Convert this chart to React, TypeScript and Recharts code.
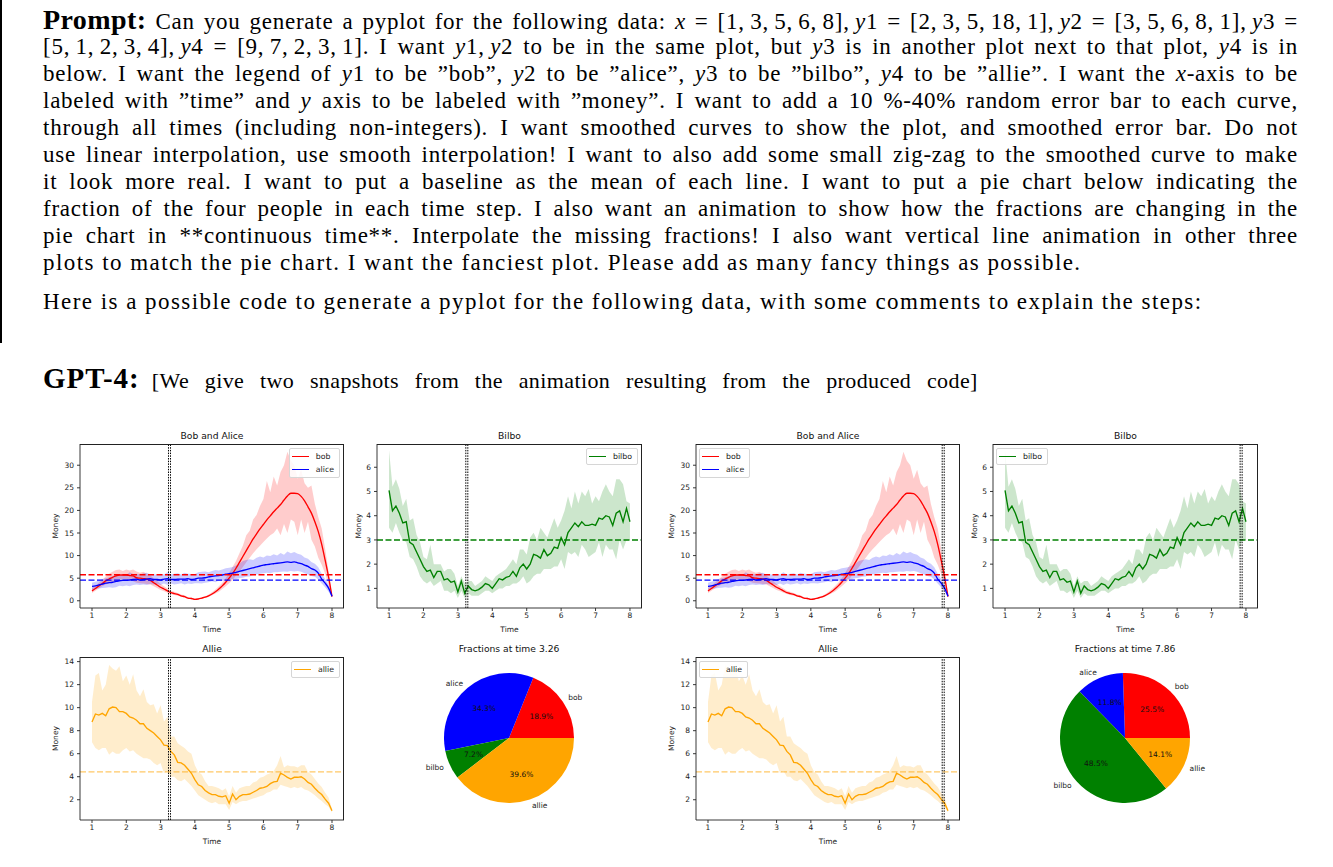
import React from 'react';
import {
  Area,
  Cell,
  ComposedChart,
  Line,
  Pie,
  PieChart,
  ReferenceLine,
  XAxis,
  YAxis,
} from 'recharts';

// sample times shared by every curve
const TIME = [
  1.0, 1.1, 1.2, 1.3, 1.4, 1.5, 1.6, 1.7, 1.8, 1.9,
  2.0, 2.1, 2.2, 2.3, 2.4, 2.5, 2.6, 2.7, 2.8, 2.9,
  3.0, 3.1, 3.2, 3.3, 3.4, 3.5, 3.6, 3.7, 3.8, 3.9,
  4.0, 4.1, 4.2, 4.3, 4.4, 4.5, 4.6, 4.7, 4.8, 4.9,
  5.0, 5.1, 5.2, 5.3, 5.4, 5.5, 5.6, 5.7, 5.8, 5.9,
  6.0, 6.1, 6.2, 6.3, 6.4, 6.5, 6.6, 6.7, 6.8, 6.9,
  7.0, 7.1, 7.2, 7.3, 7.4, 7.5, 7.6, 7.7, 7.8, 7.9,
  8.0,
];

const BOB = [
  2.2, 2.7, 3.3, 3.8, 4.4, 4.8, 5.2, 5.5, 5.7, 5.7,
  5.7, 5.6, 5.5, 5.1, 5.0, 4.9, 4.8, 4.5, 4.0, 3.5,
  3.0, 2.6, 2.2, 1.8, 1.6, 1.4, 1.1, 0.9, 0.6, 0.5,
  0.3, 0.4, 0.6, 0.8, 1.1, 1.5, 2.0, 2.6, 3.3, 4.1,
  5.0, 6.0, 7.2, 8.5, 9.8, 11.1, 12.4, 13.7, 14.8, 15.9,
  16.9, 17.9, 18.8, 19.7, 20.5, 21.3, 22.3, 23.2, 23.8, 23.8,
  23.7, 23.1, 22.1, 20.8, 19.4, 17.5, 15.3, 12.5, 9.0, 5.3,
  0.9,
];
const BOB_LO = [
  1.7, 2.2, 2.7, 3.2, 3.6, 3.9, 4.2, 4.4, 4.6, 4.8,
  4.7, 4.5, 4.3, 4.0, 3.9, 3.8, 3.7, 3.6, 3.2, 2.8,
  2.4, 2.1, 1.8, 1.5, 1.3, 1.1, 0.9, 0.7, 0.5, 0.4,
  0.2, 0.3, 0.5, 0.6, 0.9, 1.2, 1.6, 2.0, 2.6, 3.2,
  3.9, 4.6, 5.6, 6.5, 7.5, 8.5, 9.5, 10.5, 11.4, 12.2,
  13.0, 13.8, 14.5, 15.0, 16.0, 14.5, 17.0, 15.0, 18.0, 17.5,
  14.5, 18.0, 15.0, 17.5, 13.5, 12.0, 9.5, 8.0, 6.0, 3.5,
  0.7,
];
const BOB_HI = [
  2.8, 3.3, 4.0, 4.6, 5.4, 6.0, 6.4, 6.8, 6.9, 6.6,
  6.9, 6.7, 6.9, 6.5, 6.2, 6.4, 6.0, 5.6, 5.0, 4.4,
  3.7, 3.2, 2.7, 2.2, 2.0, 1.7, 1.4, 1.2, 0.8, 0.7,
  0.4, 0.5, 0.8, 1.0, 1.4, 1.9, 2.5, 3.2, 4.0, 5.0,
  6.2, 7.5, 8.8, 10.5, 12.2, 14.5, 15.5, 18.0, 19.0, 21.0,
  22.5, 26.5, 24.0, 27.5, 25.5, 28.5, 30.0, 33.0, 31.0, 30.0,
  27.0, 29.0, 26.0, 25.0, 25.5, 21.5, 18.5, 16.0, 11.5, 6.5,
  1.1,
];

const ALICE = [
  3.2, 3.3, 3.5, 3.7, 3.9, 4.0, 4.1, 4.3, 4.4, 4.5,
  4.5, 4.6, 4.7, 4.8, 4.6, 4.7, 4.8, 4.9, 4.7, 4.7,
  4.6, 4.8, 4.9, 4.7, 4.7, 4.8, 4.8, 4.8, 4.9, 4.7,
  4.8, 5.0, 5.0, 5.1, 5.3, 5.4, 5.5, 5.6, 5.7, 5.9,
  6.0, 6.1, 6.3, 6.5, 6.7, 6.9, 7.1, 7.3, 7.5, 7.7,
  7.9, 8.0, 8.1, 8.2, 8.3, 8.4, 8.5, 8.6, 8.5, 8.6,
  8.4, 8.2, 7.9, 7.6, 7.1, 6.8, 6.1, 4.8, 3.9, 2.8,
  1.0,
];
const ALICE_LO = [
  2.4, 2.6, 2.7, 2.8, 2.9, 3.0, 2.9, 3.0, 3.3, 3.2,
  3.4, 3.2, 3.5, 3.6, 3.5, 3.6, 3.5, 3.7, 3.6, 3.7,
  3.5, 3.8, 3.5, 3.8, 3.6, 3.7, 3.9, 3.6, 3.8, 3.7,
  3.9, 3.9, 3.8, 4.0, 4.1, 4.3, 4.1, 4.5, 4.4, 4.6,
  4.7, 4.8, 4.8, 5.0, 5.1, 5.3, 5.4, 5.7, 5.8, 6.0,
  6.1, 6.2, 6.1, 6.3, 6.3, 6.4, 6.5, 6.4, 6.6, 6.5,
  6.6, 6.4, 6.1, 5.8, 5.5, 5.3, 4.7, 3.8, 3.0, 2.0,
  0.8,
];
const ALICE_HI = [
  4.0, 4.2, 4.5, 4.8, 5.0, 5.2, 5.5, 5.8, 5.5, 5.9,
  5.7, 6.3, 5.9, 6.0, 5.8, 6.1, 6.2, 5.8, 5.9, 5.7,
  6.0, 5.8, 6.3, 5.8, 6.0, 6.1, 5.8, 6.2, 6.0, 5.9,
  5.9, 6.3, 6.4, 6.5, 6.3, 6.6, 6.8, 6.7, 6.9, 7.2,
  7.3, 7.5, 7.8, 8.2, 8.8, 9.0, 9.2, 9.0, 9.5, 9.8,
  9.6, 10.0, 9.9, 10.3, 10.0, 10.6, 10.2, 10.9, 10.5, 10.8,
  10.4, 10.2, 9.6, 9.3, 8.6, 8.2, 7.4, 6.0, 4.8, 3.5,
  1.2,
];

const BILBO = [
  5.05, 4.2, 4.4, 4.1, 3.7, 3.75, 2.9, 2.8, 2.5, 2.2,
  1.9, 1.7, 1.75, 1.45, 1.7, 1.7, 1.35, 1.4, 1.25, 1.3,
  0.85, 1.3, 0.8, 1.1, 0.95, 0.9, 0.95, 1.05, 1.2, 1.15,
  1.0, 1.2, 1.4, 1.35, 1.45, 1.5, 1.7, 1.5, 1.85, 2.0,
  1.8, 2.0, 2.4, 2.35, 2.25, 2.6, 2.35, 2.45, 2.7, 2.65,
  3.1, 2.8, 3.3, 3.5, 3.7, 3.55, 3.75, 3.6, 3.6, 3.65,
  3.6, 3.9, 3.85, 4.0, 3.95, 3.6, 4.1, 4.2, 3.75, 4.3,
  3.75,
];
const BILBO_LO = [
  3.5, 3.3, 3.7, 3.3, 3.0, 2.9, 2.3, 2.2, 1.9, 1.5,
  1.3, 1.2, 1.3, 1.1, 1.2, 1.3, 0.9, 0.9, 0.8, 0.9,
  0.6, 0.9, 0.6, 0.8, 0.7, 0.7, 0.7, 0.8, 0.9, 0.9,
  0.8, 0.9, 1.0, 1.0, 1.1, 1.1, 1.2, 1.2, 1.3, 1.5,
  1.2, 1.3, 1.5, 1.6, 1.6, 1.8, 1.8, 1.8, 1.9, 1.9,
  2.2, 1.8, 2.5, 2.4, 2.5, 2.3, 2.8, 2.6, 2.3, 2.4,
  2.5, 2.9, 2.3, 2.8, 2.6, 2.6, 2.2, 3.0, 2.6, 3.0,
  3.0,
];
const BILBO_HI = [
  6.7, 5.2, 5.5, 5.1, 4.4, 4.7, 3.8, 3.9, 3.2, 2.9,
  2.3, 2.2, 2.8, 2.0, 2.0, 2.0, 1.7, 1.8, 1.8, 1.6,
  1.1, 1.5, 1.2, 1.3, 1.3, 1.1, 1.2, 1.3, 1.5, 1.4,
  1.3, 1.5, 1.6, 1.7, 1.8, 2.0, 2.2, 2.0, 2.6, 2.6,
  2.4, 3.1, 3.3, 3.0, 3.5, 3.3, 3.1, 3.5, 3.9, 3.5,
  3.8, 4.2, 4.8, 4.3, 5.0, 4.5, 5.0, 4.8, 5.1, 4.5,
  4.8, 4.6, 5.0, 5.3, 5.0, 4.8, 5.5, 5.5, 5.3, 4.6,
  4.5,
];

const ALLIE = [
  8.75, 9.45, 9.35, 9.5, 9.3, 9.9, 10.05, 10.0, 9.65, 9.65,
  9.5, 9.2, 9.1, 8.9, 8.6, 8.6, 8.2, 8.0, 7.8, 7.5,
  7.2, 6.75, 6.7, 6.2, 5.9, 5.25, 5.2, 5.0, 4.65, 4.3,
  3.75, 3.3, 3.15, 2.8, 2.6, 2.45, 2.45, 2.3, 2.25, 2.35,
  1.7, 2.5, 2.0, 2.3, 2.45, 2.45, 2.5, 2.65, 2.8, 3.0,
  3.05, 3.15, 3.4, 3.55, 3.6, 4.3, 4.15, 3.95, 3.8, 3.95,
  3.95, 4.0, 3.8, 3.5, 3.35, 3.0, 2.7, 2.45, 2.05, 1.7,
  1.05,
];
const ALLIE_LO = [
  7.0, 6.5, 6.3, 6.5, 6.5, 5.9, 6.2, 6.0, 6.0, 6.3,
  6.5, 6.2, 6.3, 6.0, 5.8, 5.6, 5.6, 5.5, 5.2, 5.0,
  5.2, 4.3, 4.5, 4.0, 4.0, 3.7, 3.6, 3.8, 3.5, 3.2,
  2.8, 2.4, 2.2, 2.0, 1.8, 1.7, 1.8, 1.6, 1.6, 1.6,
  1.1, 1.8, 1.6, 1.8, 1.9, 1.9, 2.0, 2.1, 2.2, 2.3,
  2.4, 2.6, 2.7, 2.9, 2.9, 3.3, 3.2, 3.1, 3.0, 3.1,
  3.0, 3.1, 2.9, 2.8, 2.6, 2.4, 2.1, 1.9, 1.6, 1.4,
  0.9,
];
const ALLIE_HI = [
  10.5, 12.8, 13.0, 11.5, 12.0, 13.7, 13.4, 13.2, 13.6, 12.3,
  12.8, 12.0, 12.9, 11.5, 11.0, 11.6, 10.5, 10.2, 10.3, 9.5,
  10.2, 8.8, 9.2, 7.5, 7.5, 6.9, 6.7, 6.5, 6.2, 6.0,
  5.0, 4.4, 4.2, 3.6, 3.2, 3.2, 3.1, 3.0, 2.8, 3.0,
  2.3, 3.2, 2.6, 3.0, 3.1, 3.2, 3.2, 3.5, 3.6, 3.9,
  4.0, 4.2, 4.3, 4.5, 5.0, 5.8, 4.8, 5.0, 4.9, 4.9,
  4.8, 5.0, 5.0, 4.4, 4.2, 3.8, 3.4, 3.1, 2.6, 2.2,
  1.2,
];

// dashed baselines (mean of each curve)
const BOB_MEAN = 5.76;
const ALICE_MEAN = 4.58;
const BILBO_MEAN = 3.0;
const ALLIE_MEAN = 4.42;

const X_TICKS = [1, 2, 3, 4, 5, 6, 7, 8];
const BA_TICKS = [0, 5, 10, 15, 20, 25, 30];
const BILBO_TICKS = [1, 2, 3, 4, 5, 6];
const ALLIE_TICKS = [2, 4, 6, 8, 10, 12, 14];

const SNAPSHOT_TIMES = [3.26, 7.86];
const PIE_NAMES = ['bob', 'alice', 'bilbo', 'allie'];
const PIE_AT_FIRST = [18.9, 34.3, 7.2, 39.6];
const PIE_AT_SECOND = [25.5, 11.8, 48.5, 14.1];

const RED = '#ff0000';
const BLUE = '#0000ff';
const GREEN = '#008000';
const ORANGE = '#ffa500';
const PIE_COLORS = [RED, BLUE, GREEN, ORANGE];

const rows = TIME.map((t, i) => ({
  t,
  bob: BOB[i],
  bobBand: [BOB_LO[i], BOB_HI[i]],
  alice: ALICE[i],
  aliceBand: [ALICE_LO[i], ALICE_HI[i]],
  bilbo: BILBO[i],
  bilboBand: [BILBO_LO[i], BILBO_HI[i]],
  allie: ALLIE[i],
  allieBand: [ALLIE_LO[i], ALLIE_HI[i]],
}));

const CHART_FONT = '"DejaVu Sans", sans-serif';
const TEXT_FONT = '"Liberation Serif", serif';
const tickStyle = { fontSize: 7.5, fill: '#222' };
const axisStyle = { stroke: '#222', strokeWidth: 0.9 };

type Box = { x0: number; y0: number; x1: number; y1: number };
type Series = {
  key: string;
  label: string;
  color: string;
  mean: number;
  meanOpacity?: number;
  smooth: boolean;
};

function MarkerLine(props: any) {
  const { x1, y1, x2, y2 } = props;
  if (x1 == null) return null;
  return (
    <g>
      <line x1={x1 - 1} y1={y1} x2={x2 - 1} y2={y2} stroke="#000" strokeWidth={1} strokeDasharray="1.5 1.2" />
      <line x1={x1 + 1} y1={y1} x2={x2 + 1} y2={y2} stroke="#000" strokeWidth={1} strokeDasharray="1.5 1.2" />
    </g>
  );
}

function Legend({ items, side }: { items: Series[]; side: 'left' | 'right' }) {
  return (
    <div
      style={{
        position: 'absolute',
        top: 3,
        [side]: 3,
        border: '1px solid #d6d6d6',
        borderRadius: 2,
        background: 'rgba(255,255,255,0.85)',
        padding: '1px 5px 1px 2px',
        fontSize: 7.8,
        lineHeight: '13px',
        color: '#222',
      }}
    >
      {items.map((s) => (
        <div key={s.key} style={{ display: 'flex', alignItems: 'center' }}>
          <span style={{ display: 'inline-block', width: 17, height: 1.4, background: s.color, marginRight: 7 }} />
          {s.label}
        </div>
      ))}
    </div>
  );
}

function LinePanel({
  box,
  title,
  yDomain,
  yTicks,
  yWidth,
  series,
  marker,
  legendSide,
}: {
  box: Box;
  title: string;
  yDomain: [number, number];
  yTicks: number[];
  yWidth: number;
  series: Series[];
  marker: number;
  legendSide: 'left' | 'right';
}) {
  const w = box.x1 - box.x0 + 12 + yWidth + 8;
  const h = box.y1 - box.y0 + 52;
  return (
    <>
      <div style={{ position: 'absolute', left: box.x0 - 12 - yWidth, top: box.y0 - 20 }}>
        <ComposedChart width={w} height={h} data={rows} margin={{ top: 20, right: 8, bottom: 2, left: 12 }}>
          <XAxis
            dataKey="t"
            type="number"
            domain={[0.65, 8.35]}
            ticks={X_TICKS}
            allowDataOverflow
            height={30}
            tickSize={3}
            tickMargin={2}
            tick={tickStyle}
            axisLine={axisStyle}
            tickLine={axisStyle}
            label={{ value: 'Time', position: 'insideBottom', offset: 6, fontSize: 7.5, fill: '#222' }}
          />
          <YAxis
            type="number"
            domain={yDomain}
            ticks={yTicks}
            allowDataOverflow
            width={yWidth}
            tickSize={3}
            tickMargin={3}
            tick={tickStyle}
            axisLine={axisStyle}
            tickLine={axisStyle}
            label={{
              value: 'Money',
              angle: -90,
              position: 'insideLeft',
              offset: 3,
              fontSize: 7.5,
              fill: '#222',
              style: { textAnchor: 'middle' },
            }}
          />
          {series.map((s) => (
            <Area
              key={s.key + '-band'}
              dataKey={s.key + 'Band'}
              type="linear"
              fill={s.color}
              fillOpacity={0.2}
              stroke="none"
              isAnimationActive={false}
            />
          ))}
          {series.map((s) => (
            <Line
              key={s.key}
              dataKey={s.key}
              type={s.smooth ? 'monotone' : 'linear'}
              stroke={s.color}
              strokeWidth={1.35}
              dot={false}
              isAnimationActive={false}
            />
          ))}
          {series.map((s) => (
            <ReferenceLine
              key={s.key + '-mean'}
              y={s.mean}
              stroke={s.color}
              strokeOpacity={s.meanOpacity ?? 1}
              strokeDasharray="6 2.5"
              strokeWidth={1.4}
            />
          ))}
          <ReferenceLine x={marker} stroke="#000" shape={MarkerLine} />
        </ComposedChart>
      </div>
      <div
        style={{
          position: 'absolute',
          left: box.x0,
          top: box.y0,
          width: box.x1 - box.x0,
          height: box.y1 - box.y0,
          boxSizing: 'border-box',
          borderTop: '1px solid #222',
          borderRight: '1px solid #222',
        }}
      >
        <Legend items={series} side={legendSide} />
      </div>
      <div
        style={{
          position: 'absolute',
          left: box.x0,
          width: box.x1 - box.x0,
          top: box.y0 - 14,
          textAlign: 'center',
          fontSize: 9.2,
          color: '#111',
        }}
      >
        {title}
      </div>
    </>
  );
}

const RAD = Math.PI / 180;

function pieLabel(props: any) {
  const { cx, cy, midAngle, outerRadius, value } = props;
  const name = props.name ?? props.payload?.name;
  const cos = Math.cos(-midAngle * RAD);
  const sin = Math.sin(-midAngle * RAD);
  return (
    <g>
      <text
        x={cx + outerRadius * 1.1 * cos}
        y={cy + outerRadius * 1.1 * sin}
        textAnchor={cos >= 0 ? 'start' : 'end'}
        dominantBaseline="central"
        fontSize={7.5}
        fill="#222"
      >
        {name}
      </text>
      <text
        x={cx + outerRadius * 0.6 * cos}
        y={cy + outerRadius * 0.6 * sin}
        textAnchor="middle"
        dominantBaseline="central"
        fontSize={7.5}
        fill="#111"
      >
        {`${Number(value).toFixed(1)}%`}
      </text>
    </g>
  );
}

function PiePanel({ cx, cy, time, values }: { cx: number; cy: number; time: number; values: number[] }) {
  const data = PIE_NAMES.map((name, i) => ({ name, value: values[i] }));
  return (
    <>
      <div
        style={{ position: 'absolute', left: cx - 100, width: 200, top: cy - 95, textAlign: 'center', fontSize: 9.2, color: '#111' }}
      >
        Fractions at time {time}
      </div>
      <div style={{ position: 'absolute', left: cx - 110, top: cy - 85 }}>
        <PieChart width={220} height={170}>
          <Pie
            data={data}
            dataKey="value"
            nameKey="name"
            cx="50%"
            cy="50%"
            outerRadius={65}
            startAngle={0}
            endAngle={360}
            stroke="none"
            label={pieLabel}
            labelLine={false}
            isAnimationActive={false}
          >
            {data.map((d, i) => (
              <Cell key={d.name} fill={PIE_COLORS[i]} />
            ))}
          </Pie>
        </PieChart>
      </div>
    </>
  );
}

const BOB_ALICE: Series[] = [
  { key: 'bob', label: 'bob', color: RED, mean: BOB_MEAN, smooth: true },
  { key: 'alice', label: 'alice', color: BLUE, mean: ALICE_MEAN, smooth: true },
];
const BILBO_S: Series[] = [{ key: 'bilbo', label: 'bilbo', color: GREEN, mean: BILBO_MEAN, smooth: false }];
const ALLIE_S: Series[] = [
  { key: 'allie', label: 'allie', color: ORANGE, mean: ALLIE_MEAN, meanOpacity: 0.6, smooth: false },
];

function Snapshot({ dx, time, pie, side }: { dx: number; time: number; pie: number[]; side: 'left' | 'right' }) {
  return (
    <>
      <LinePanel
        box={{ x0: 80 + dx, y0: 444, x1: 344 + dx, y1: 608 }}
        title="Bob and Alice"
        yDomain={[-1.6, 34.7]}
        yTicks={BA_TICKS}
        yWidth={28}
        series={BOB_ALICE}
        marker={time}
        legendSide={side}
      />
      <LinePanel
        box={{ x0: 377 + dx, y0: 444, x1: 642 + dx, y1: 608 }}
        title="Bilbo"
        yDomain={[0.19, 6.96]}
        yTicks={BILBO_TICKS}
        yWidth={22}
        series={BILBO_S}
        marker={time}
        legendSide={side}
      />
      <LinePanel
        box={{ x0: 80 + dx, y0: 657, x1: 344 + dx, y1: 820 }}
        title="Allie"
        yDomain={[0.24, 14.4]}
        yTicks={ALLIE_TICKS}
        yWidth={28}
        series={ALLIE_S}
        marker={time}
        legendSide={side}
      />
      <PiePanel cx={509 + dx} cy={738} time={time} values={pie} />
    </>
  );
}

const M = ({ children }: { children: React.ReactNode }) => <i>{children}</i>;
const T = '\u2009';

const PROMPT_LINES: React.ReactNode[] = [
  <>
    <b style={{ fontSize: 28, letterSpacing: 0.4 }}>Prompt:</b> Can you generate a pyplot for the following data: <M>x</M> = [1,{T}3,{T}5,{T}6,{T}8],{T}<M>y</M>1 = [2,{T}3,{T}5,{T}18,{T}1],{T}<M>y</M>2 = [3,{T}5,{T}6,{T}8,{T}1],{T}<M>y</M>3 =
  </>,
  <>
    [5,{T}1,{T}2,{T}3,{T}4],{T}<M>y</M>4 = [9,{T}7,{T}2,{T}3,{T}1]. I want <M>y</M>1,{T}<M>y</M>2 to be in the same plot, but <M>y</M>3 is in another plot next to that plot, <M>y</M>4 is in
  </>,
  <>
    below. I want the legend of <M>y</M>1 to be ”bob”, <M>y</M>2 to be ”alice”, <M>y</M>3 to be ”bilbo”, <M>y</M>4 to be ”allie”. I want the <M>x</M>-axis to be
  </>,
  <>
    labeled with ”time” and <M>y</M> axis to be labeled with ”money”. I want to add a 10 %-40% random error bar to each curve,
  </>,
  <>through all times (including non-integers). I want smoothed curves to show the plot, and smoothed error bar. Do not</>,
  <>use linear interpolation, use smooth interpolation! I want to also add some small zig-zag to the smoothed curve to make</>,
  <>it look more real. I want to put a baseline as the mean of each line. I want to put a pie chart below indicating the</>,
  <>fraction of the four people in each time step. I also want an animation to show how the fractions are changing in the</>,
  <>pie chart in **continuous time**. Interpolate the missing fractions! I also want vertical line animation in other three</>,
  <>plots to match the pie chart. I want the fanciest plot. Please add as many fancy things as possible.</>,
];

export default function App() {
  const lineStyle = (top: number, justify: boolean): React.CSSProperties => ({
    position: 'absolute',
    left: 43,
    top,
    width: 1255,
    fontFamily: TEXT_FONT,
    fontSize: 23,
    letterSpacing: justify ? 0.75 : 1.45,
    lineHeight: '27px',
    textAlign: justify ? 'justify' : 'left',
    textAlignLast: justify ? 'justify' : 'left',
    color: '#000',
  });
  return (
    <div
      style={{
        position: 'absolute',
        left: 0,
        top: 0,
        width: 1333,
        height: 867,
        background: '#fff',
        overflow: 'hidden',
        fontFamily: CHART_FONT,
      }}
    >
      <div style={{ position: 'absolute', left: 0, top: 0, width: 2, height: 343, background: '#000' }} />
      {PROMPT_LINES.map((ln, i) => (
        <div key={i} style={lineStyle(6 + 27 * i, i < PROMPT_LINES.length - 1)}>
          {ln}
        </div>
      ))}
      <div style={lineStyle(288, false)}>
        Here is a possible code to generate a pyplot for the following data, with some comments to explain the steps:
      </div>
      <div style={{ ...lineStyle(365, false), display: 'flex', alignItems: 'baseline' }}>
        <b style={{ fontSize: 29, letterSpacing: 1, marginRight: 12 }}>GPT-4:</b>
        <span style={{ display: 'inline-block', width: 826, fontSize: 22, letterSpacing: 0.4, textAlign: 'justify', textAlignLast: 'justify' }}>
          [We give two snapshots from the animation resulting from the produced code]
        </span>
      </div>
      <Snapshot dx={0} time={SNAPSHOT_TIMES[0]} pie={PIE_AT_FIRST} side="right" />
      <Snapshot dx={616} time={SNAPSHOT_TIMES[1]} pie={PIE_AT_SECOND} side="left" />
    </div>
  );
}
